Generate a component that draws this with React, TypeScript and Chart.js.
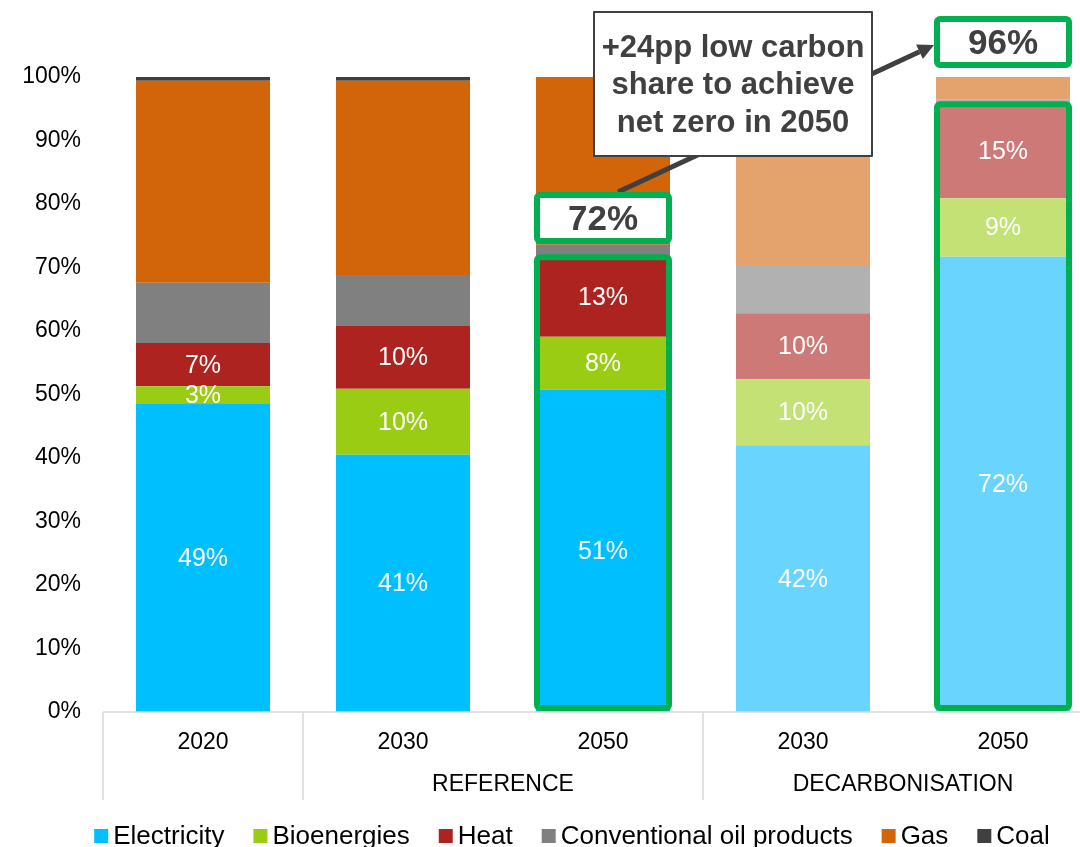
import React, { useEffect, useRef } from "react";
import { Chart, registerables } from "chart.js";

Chart.register(...registerables);

const years = ["2020", "2030", "2050", "2030", "2050"];
const scenarios = ["", "REFERENCE", "REFERENCE", "DECARBONISATION", "DECARBONISATION"];
const seriesNames = ["Electricity", "Bioenergies", "Heat", "Conventional oil products", "Gas", "Coal"];

const electricity = [48.5, 40.5, 50.8, 42.0, 71.7];
const bioenergies = [2.8, 10.4, 8.3, 10.4, 9.2];
const heat = [6.8, 9.9, 12.5, 10.4, 14.8];
const oilProducts = [9.5, 8.0, 2.0, 7.6, 0.7];
const gas = [31.8, 30.6, 26.4, 29.6, 3.6];
const coal = [0.6, 0.6, 0, 0, 0];

const darkColors = ["#00BFFF", "#99CC12", "#AD2320", "#808080", "#D2640A", "#404040"];
const lightColors = ["#69D5FF", "#C4E176", "#CC7977", "#B1B1B1", "#E4A26C", "#404040"];

const labelledSeries = 3; // electricity, bioenergies, heat carry labels (low-carbon)
const highlightedBars = [2, 4];
const highlightLabelLevels = [77.8, 105.5];
const calloutLines = ["+24pp low carbon", "share to achieve", "net zero in 2050"];

const FONT = '"Liberation Sans", Arial, Helvetica, sans-serif';
const seriesValues = [electricity, bioenergies, heat, oilProducts, gas, coal];

function lowCarbon(i: number) {
  let s = 0;
  for (let d = 0; d < labelledSeries; d++) s += seriesValues[d][i];
  return s;
}
function lowCarbonRounded(i: number) {
  let s = 0;
  for (let d = 0; d < labelledSeries; d++) s += Math.round(seriesValues[d][i]);
  return s;
}

const overlayPlugin = {
  id: "overlay",
  afterDatasetsDraw(chart: any) {
    const ctx = chart.ctx as CanvasRenderingContext2D;
    const xs = chart.scales.x;
    const ys = chart.scales.y;
    const area = chart.chartArea;
    ctx.save();

    // data labels
    ctx.fillStyle = "#FFFFFF";
    ctx.font = `25px ${FONT}`;
    ctx.textAlign = "center";
    ctx.textBaseline = "middle";
    for (let d = 0; d < labelledSeries; d++) {
      const meta = chart.getDatasetMeta(d);
      meta.data.forEach((el: any, i: number) => {
        const v = seriesValues[d][i];
        ctx.fillText(Math.round(v) + "%", el.x, (el.y + el.base) / 2 + 1);
      });
    }

    // x axis line
    const y0 = ys.getPixelForValue(0);
    ctx.strokeStyle = "#D9D9D9";
    ctx.lineWidth = 1.5;
    ctx.beginPath();
    ctx.moveTo(area.left, y0);
    ctx.lineTo(chart.width, y0);
    ctx.stroke();

    // category separators and labels
    const n = years.length;
    const step = (area.right - area.left) / n;
    const bounds: number[] = [0];
    for (let i = 1; i < n; i++) if (scenarios[i] !== scenarios[i - 1]) bounds.push(i);
    bounds.push(n);
    ctx.beginPath();
    bounds.forEach((b) => {
      const bx = area.left + b * step;
      ctx.moveTo(bx, y0);
      ctx.lineTo(bx, y0 + 88);
    });
    ctx.stroke();

    ctx.fillStyle = "#000000";
    ctx.font = `23px ${FONT}`;
    years.forEach((yr, i) => {
      ctx.fillText(yr, xs.getPixelForValue(i), y0 + 31);
    });
    for (let k = 0; k < bounds.length - 1; k++) {
      const a = bounds[k], b = bounds[k + 1];
      const lbl = scenarios[a];
      if (!lbl) continue;
      const cx = (xs.getPixelForValue(a) + xs.getPixelForValue(b - 1)) / 2;
      ctx.fillText(lbl, cx, y0 + 73);
    }

    // legend
    ctx.font = `26px ${FONT}`;
    ctx.textAlign = "left";
    const sq = 14, gapText = 5, gapItem = 29;
    const widths = seriesNames.map((s) => ctx.measureText(s).width);
    let total = 0;
    widths.forEach((w, i) => { total += sq + gapText + w + (i < widths.length - 1 ? gapItem : 0); });
    let lx = 572 - total / 2;
    const ly = 836;
    seriesNames.forEach((s, i) => {
      ctx.fillStyle = darkColors[i];
      ctx.fillRect(lx, ly - sq / 2, sq, sq);
      ctx.fillStyle = "#000000";
      ctx.fillText(s, lx + sq + gapText, ly + 1);
      lx += sq + gapText + widths[i] + gapItem;
    });

    // highlight boxes
    const green = "#00B050";
    const meta0 = chart.getDatasetMeta(0);
    const boxes: any[] = [];
    highlightedBars.forEach((bi, k) => {
      const el = meta0.data[bi];
      const left = el.x - el.width / 2 + 1;
      const right = el.x + el.width / 2 - 1;
      const top = ys.getPixelForValue(lowCarbon(bi));
      const bottom = y0 - 4;
      ctx.lineWidth = 6;
      ctx.strokeStyle = green;
      ctx.lineJoin = "round";
      ctx.beginPath();
      (ctx as any).roundRect(left, top, right - left, bottom - top, 3);
      ctx.stroke();
      const cy = ys.getPixelForValue(highlightLabelLevels[k]);
      boxes.push({ left, right, cy, h: 46, text: lowCarbonRounded(bi) + "%" });
    });

    // arrow from first label box to second
    const b1 = boxes[0], b2 = boxes[1];
    const sx = (b1.left + b1.right) / 2 + 15;
    const sy = b1.cy - b1.h / 2 - 3;
    const ex = b2.left - 3;
    const ey = b2.cy + 3;
    const ang = Math.atan2(ey - sy, ex - sx);
    const headLen = 16, headW = 8;
    const bx = ex - headLen * Math.cos(ang);
    const by = ey - headLen * Math.sin(ang);
    ctx.strokeStyle = "#404040";
    ctx.fillStyle = "#404040";
    ctx.lineWidth = 5;
    ctx.lineCap = "butt";
    ctx.beginPath();
    ctx.moveTo(sx, sy);
    ctx.lineTo(bx, by);
    ctx.stroke();
    ctx.beginPath();
    ctx.moveTo(ex, ey);
    ctx.lineTo(bx + headW * Math.sin(ang), by - headW * Math.cos(ang));
    ctx.lineTo(bx - headW * Math.sin(ang), by + headW * Math.cos(ang));
    ctx.closePath();
    ctx.fill();

    // callout box
    const cL = 594, cT = 12, cW = 278, cH = 144;
    ctx.fillStyle = "#FFFFFF";
    ctx.fillRect(cL, cT, cW, cH);
    ctx.lineWidth = 2;
    ctx.strokeStyle = "#404040";
    ctx.strokeRect(cL, cT, cW, cH);
    ctx.fillStyle = "#404040";
    ctx.font = `bold 31px ${FONT}`;
    ctx.textAlign = "center";
    ctx.textBaseline = "middle";
    calloutLines.forEach((line, i) => {
      ctx.fillText(line, cL + cW / 2, cT + 36 + i * 37.5);
    });

    // label boxes
    boxes.forEach((b) => {
      const top = b.cy - b.h / 2;
      ctx.fillStyle = "#FFFFFF";
      ctx.fillRect(b.left, top, b.right - b.left, b.h);
      ctx.lineWidth = 6;
      ctx.strokeStyle = green;
      ctx.beginPath();
      (ctx as any).roundRect(b.left, top, b.right - b.left, b.h, 3);
      ctx.stroke();
      ctx.fillStyle = "#404040";
      ctx.font = `bold 35px ${FONT}`;
      ctx.fillText(b.text, (b.left + b.right) / 2, b.cy + 2);
    });

    ctx.restore();
  },
};

export default function App() {
  const ref = useRef<HTMLCanvasElement | null>(null);
  useEffect(() => {
    if (!ref.current) return;
    const colorsFor = (d: number) =>
      scenarios.map((s) => (s === "DECARBONISATION" ? lightColors[d] : darkColors[d]));
    const chart = new Chart(ref.current, {
      type: "bar",
      data: {
        labels: years,
        datasets: seriesNames.map((name, d) => ({
          label: name,
          data: seriesValues[d],
          backgroundColor: colorsFor(d),
          borderWidth: 0,
          barPercentage: 0.67,
          categoryPercentage: 1,
        })),
      },
      options: {
        animation: false,
        responsive: false,
        devicePixelRatio: 1,
        layout: { padding: { top: 77, right: 7, left: 0, bottom: 0 } },
        plugins: { legend: { display: false }, tooltip: { enabled: false } },
        scales: {
          x: {
            stacked: true,
            grid: { display: false, drawTicks: false },
            border: { display: false },
            ticks: { display: false },
            afterFit: (s: any) => { s.height = 135; },
          },
          y: {
            stacked: true,
            min: 0,
            max: 100,
            ticks: {
              stepSize: 10,
              callback: (v: any) => v + "%",
              font: { size: 23, family: FONT },
              color: "#000000",
              padding: 22,
            },
            grid: { display: false, drawTicks: false },
            border: { display: false },
            afterFit: (s: any) => { s.width = 103; },
          },
        },
      } as any,
      plugins: [overlayPlugin],
    });
    return () => chart.destroy();
  }, []);
  return (
    <div style={{ position: "fixed", left: 0, top: 0, width: 1080, height: 847, overflow: "hidden", background: "#fff" }}>
      <canvas ref={ref} width={1110} height={847} style={{ display: "block" }} />
    </div>
  );
}
